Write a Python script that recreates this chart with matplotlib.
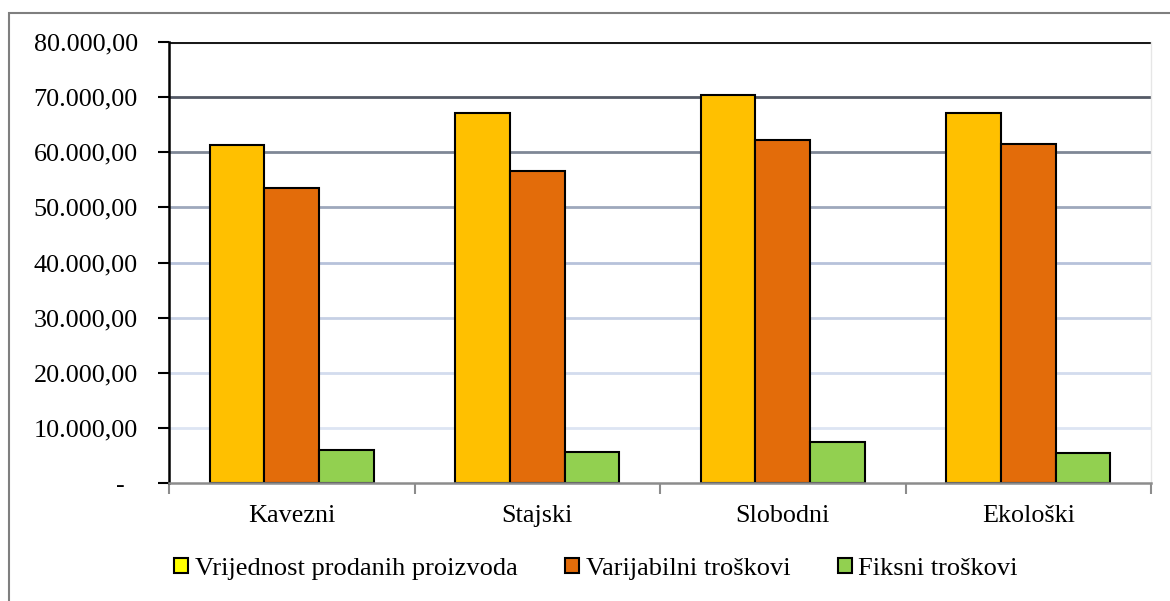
import numpy as np
import matplotlib
matplotlib.use("Agg")
import matplotlib.pyplot as plt
from matplotlib.patches import Patch, Rectangle

kategorije = ["Kavezni", "Stajski", "Slobodni", "Ekološki"]
vrijednost = [61300, 67100, 70400, 67100]
varijabilni = [53600, 56600, 62200, 61500]
fiksni = [6000, 5600, 7400, 5400]
serije = ["Vrijednost prodanih proizvoda", "Varijabilni troškovi", "Fiksni troškovi"]
y_ticks = [0, 10000, 20000, 30000, 40000, 50000, 60000, 70000, 80000]
y_labels = ["-  ", "10.000,00", "20.000,00", "30.000,00", "40.000,00",
            "50.000,00", "60.000,00", "70.000,00", "80.000,00"]

boje = ["#ffc000", "#e36c0a", "#92d050"]
boje_legenda = ["#ffff00", "#e36c0a", "#92d050"]
# boje mreže od dna prema vrhu (kao u Excelu, prijelaz)
boje_mreze = ["#dde5f3", "#d3dcee", "#c6d0e5", "#b7c2da", "#9ea8bc", "#7f8796", "#545a66", "#1a1a1a"]

plt.rcParams["font.family"] = ["Liberation Serif", "DejaVu Serif"]

fig = plt.figure(figsize=(11.7, 6.01), dpi=100)
# vanjski okvir
fig.patches.append(Rectangle((9 / 1170, -0.1), 1.2, 1 - 13 / 601 + 0.1, transform=fig.transFigure,
                             fill=False, edgecolor="#7f7f7f", linewidth=1.5))

ax = fig.add_axes([169 / 1170, 1 - 483 / 601, 982 / 1170, 441 / 601])

x = np.arange(len(kategorije))
w = 1 / 4.5
for j, podaci in enumerate([vrijednost, varijabilni, fiksni]):
    ax.bar(x + (j - 1) * w, podaci, width=w, color=boje[j], edgecolor="black",
           linewidth=1.5, zorder=3)

for t, c in zip(y_ticks[1:], boje_mreze):
    ax.axhline(t, color=c, linewidth=2 if t < 80000 else 2.2, zorder=1)

ax.set_xlim(-0.5, len(kategorije) - 0.5)
ax.set_ylim(0, 80000)
ax.set_yticks(y_ticks)
ax.set_yticklabels(y_labels, fontsize=18.8)
ax.set_xticks(x)
ax.set_xticklabels(kategorije, fontsize=18.8)
ax.set_xticks(np.arange(-0.5, len(kategorije)), minor=True)
ax.tick_params(axis="x", which="major", length=0, pad=16)
ax.tick_params(axis="x", which="minor", length=8, width=1.5, color="#8c8c8c")
ax.tick_params(axis="y", length=8, width=1.5, color="black", pad=14.5)

ax.spines["left"].set_linewidth(1.8)
ax.spines["left"].set_color("black")
ax.spines["bottom"].set_linewidth(1.8)
ax.spines["bottom"].set_color("#8c8c8c")
ax.spines["bottom"].set_zorder(4)
ax.spines["top"].set_visible(False)
ax.spines["right"].set_color("#e6e6e6")
ax.spines["right"].set_linewidth(1)

rucke = [Patch(facecolor=c, edgecolor="black", linewidth=1.5) for c in boje_legenda]
fig.legend(rucke, serije, loc="center", bbox_to_anchor=(596 / 1170, 1 - 569 / 601),
           ncol=3, frameon=False, fontsize=19, handlelength=0.53, handleheight=0.53,
           handletextpad=0.25, columnspacing=1.8)

fig.savefig("out.png", dpi=100)
